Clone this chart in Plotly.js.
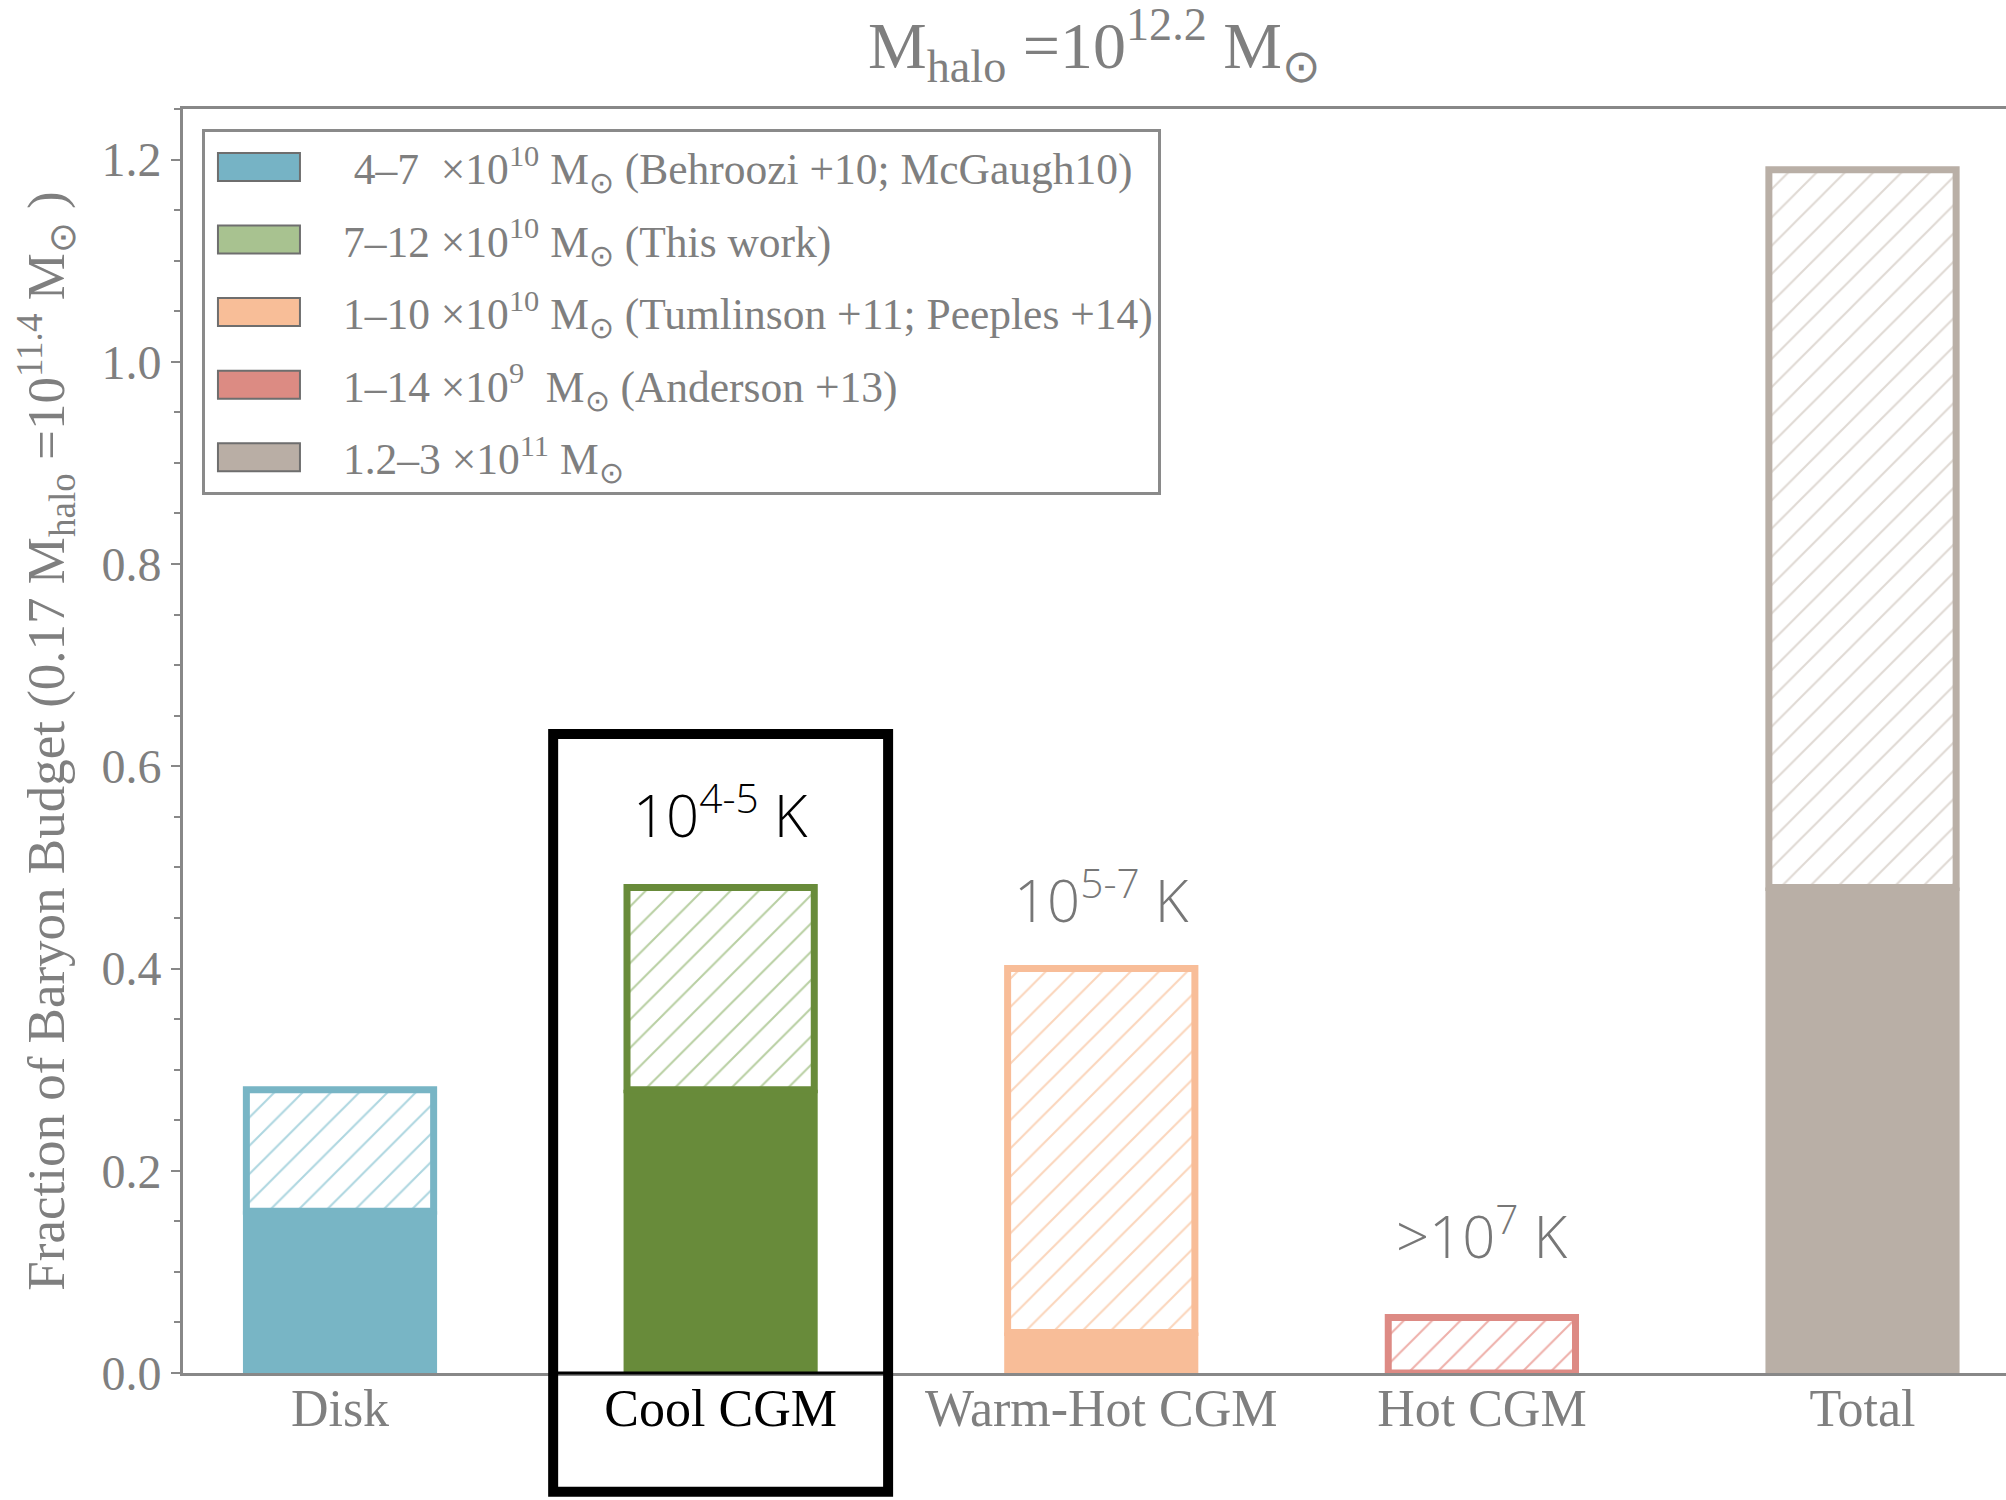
<!DOCTYPE html>
<html>
<head>
<meta charset="utf-8">
<script src="https://cdn.plot.ly/plotly-3.0.1.min.js"></script>
<style>
html,body{margin:0;padding:0;background:#ffffff;}
#chart{width:2006px;height:1500px;}
</style>
</head>
<body>
<div id="chart"></div>
<script>
// ---- data ----
const categories = ['Disk', 'Cool CGM', 'Warm-Hot CGM', 'Hot CGM', 'Total'];
const tickLabels = ['Disk', '<span style="color:#000000">Cool CGM</span>', 'Warm-Hot CGM', 'Hot CGM', 'Total'];
const lowerFraction = [0.16, 0.28, 0.04, 0.0, 0.48];
const upperFraction = [0.28, 0.48, 0.40, 0.055, 1.19];
const tempLabels = ['', '10<sup>4-5</sup> K', '10<sup>5-7</sup> K', '>10<sup>7</sup> K', ''];
const tempColors = ['#777777', '#000000', '#777777', '#777777', '#777777'];
const legendLabels = [
  ' 4\u20137  \u00d710<sup>10</sup> M<sub>\u2299</sub> (Behroozi +10; McGaugh10)',
  '7\u201312 \u00d710<sup>10</sup> M<sub>\u2299</sub> (This work)',
  '1\u201310 \u00d710<sup>10</sup> M<sub>\u2299</sub> (Tumlinson +11; Peeples +14)',
  '1\u201314 \u00d710<sup>9</sup>  M<sub>\u2299</sub> (Anderson +13)',
  '1.2\u20133 \u00d710<sup>11</sup> M<sub>\u2299</sub>'
];
const barColors = ['#78b5c5', '#688b3a', '#f8bd98', '#dd8a84', '#b9afa6'];
const hatchColors = ['#add6e0', '#b8cfa2', '#fbd5bb', '#eeb0aa', '#dfd9d3'];
const legendColors = ['#76b3c5', '#a8c290', '#f8be98', '#dc8b83', '#b9aea5'];
const highlightIndex = 1;

// ---- style ----
const serif = 'Liberation Serif, Times New Roman, serif';
const grey = '#7f7f7f';
const xRange = [-0.4125, 4.377];
const yRange = [0, 1.25];
const barWidth = 0.51;
const edgeWidth = 7;

const traces = [];
categories.forEach((c, i) => {
  traces.push({
    type: 'bar', x: [c], y: [lowerFraction[i]], width: barWidth,
    marker: {color: barColors[i], line: {width: 0}},
    showlegend: false, hoverinfo: 'skip'
  });
  traces.push({
    type: 'bar', x: [c], base: [lowerFraction[i]], y: [upperFraction[i] - lowerFraction[i]],
    width: barWidth - 0.018,
    marker: {
      color: '#ffffff',
      line: {color: barColors[i], width: edgeWidth},
      pattern: {shape: '/', fgcolor: hatchColors[i], bgcolor: '#ffffff', size: 20, solidity: 0.1, fillmode: 'replace'}
    },
    showlegend: false, hoverinfo: 'skip'
  });
});
legendLabels.forEach((lab, i) => {
  traces.push({
    type: 'bar', x: [null], y: [null], name: lab, legendgroup: 'g' + i,
    marker: {color: legendColors[i], line: {color: '#6e6e6e', width: 2}},
    showlegend: true
  });
});

const annotations = [];
categories.forEach((c, i) => {
  if (!tempLabels[i]) return;
  annotations.push({
    x: c, y: upperFraction[i], xref: 'x', yref: 'y',
    text: tempLabels[i], showarrow: false, yanchor: 'middle', xanchor: 'center',
    yshift: i === 3 ? 84 : (i === 2 ? 72 : 76),
    font: {family: 'Open Sans, sans-serif', size: 58, color: tempColors[i], weight: 300}
  });
});

// highlight box around the Cool CGM column (paper coordinates derived from axis ranges)
const toPaperX = v => (v - xRange[0]) / (xRange[1] - xRange[0]);
const toPaperY = v => (v - yRange[0]) / (yRange[1] - yRange[0]);
const boxX0 = toPaperX(highlightIndex - 0.44), boxX1 = toPaperX(highlightIndex + 0.44);
const shapes = [
  {type: 'line', xref: 'paper', yref: 'paper', x0: boxX0, x1: boxX1, y0: 0, y1: 0,
   line: {color: '#000000', width: 3}, layer: 'above'},
  {type: 'rect', xref: 'paper', yref: 'paper', x0: boxX0, x1: boxX1,
   y0: toPaperY(-0.1175), y1: toPaperY(0.632),
   line: {color: '#000000', width: 10}, fillcolor: 'rgba(0,0,0,0)', layer: 'above'}
];

const layout = {
  width: 2006, height: 1500,
  paper_bgcolor: '#ffffff', plot_bgcolor: '#ffffff',
  margin: {l: 183, r: 0, t: 109, b: 127, pad: 0},
  barmode: 'overlay',
  title: {
    text: 'M<sub>halo</sub> =10<sup>12.2</sup> M<sub>\u2299</sub>',
    x: 0.5, xref: 'paper', xanchor: 'center', y: 0.97, yanchor: 'middle',
    font: {family: serif, size: 66, color: grey}
  },
  xaxis: {
    range: xRange, type: 'category', categoryorder: 'array', categoryarray: categories,
    tickmode: 'array', tickvals: categories, ticktext: tickLabels,
    showline: true, linecolor: '#888888', linewidth: 3, mirror: true,
    ticks: '', showgrid: false, zeroline: false, ticklabelstandoff: -12,
    tickfont: {family: serif, size: 52, color: grey}
  },
  yaxis: {
    range: yRange, showline: true, linecolor: '#888888', linewidth: 3, mirror: false,
    ticks: 'outside', ticklen: 9, tickwidth: 2, tickcolor: '#888888',
    tickvals: [0, 0.2, 0.4, 0.6, 0.8, 1.0, 1.2],
    ticktext: ['0.0', '0.2', '0.4', '0.6', '0.8', '1.0', '1.2'],
    minor: {dtick: 0.05, ticks: 'outside', ticklen: 6, tickwidth: 2, tickcolor: '#888888', showgrid: false},
    showgrid: false, zeroline: false,
    tickfont: {family: serif, size: 48, color: grey},
    title: {
      text: 'Fraction of Baryon Budget (0.17 M<sub>halo</sub> =10<sup>11.4</sup> M<sub>\u2299</sub> )',
      font: {family: serif, size: 53, color: grey}, standoff: 20
    }
  },
  showlegend: true,
  legend: {
    x: 0.0104, y: 0.984, xanchor: 'left', yanchor: 'top',
    bgcolor: '#ffffff', bordercolor: '#8a8a8a', borderwidth: 3,
    font: {family: serif, size: 43.5, color: grey},
    traceorder: 'grouped', tracegroupgap: 13, itemwidth: 128,
    itemclick: false, itemdoubleclick: false
  },
  annotations: annotations,
  shapes: shapes
};

Plotly.newPlot('chart', traces, layout, {displayModeBar: false, staticPlot: true}).then(gd => {
  // enlarge the legend swatches to match the wide rectangles of the reference
  gd.querySelectorAll('.legend .traces .legendpoints path').forEach(p => {
    p.setAttribute('d', 'M-56,-14H26V14H-56Z');
  });
});
</script>
</body>
</html>
